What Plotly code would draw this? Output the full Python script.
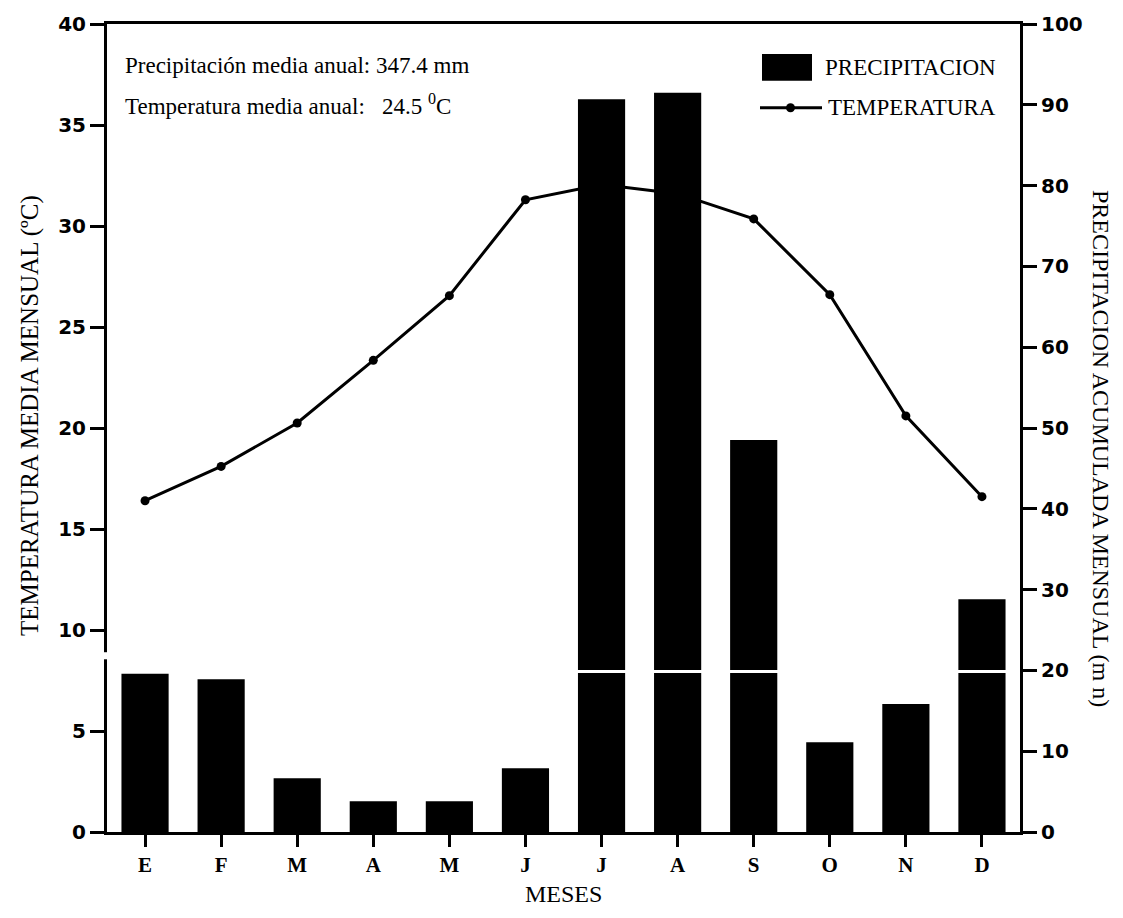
import plotly.graph_objects as go

meses = ["E", "F", "M", "A", "M", "J", "J", "A", "S", "O", "N", "D"]
precipitacion = [19.6, 18.9, 6.65, 3.8, 3.8, 7.9, 90.7, 91.5, 48.5, 11.1, 15.85, 28.8]
temperatura = [16.4, 18.1, 20.25, 23.35, 26.55, 31.3, 32.05, 31.6, 30.35, 26.6, 20.6, 16.6]
temp_ticks = [0, 5, 10, 15, 20, 25, 30, 35, 40]
prec_ticks = [0, 10, 20, 30, 40, 50, 60, 70, 80, 90, 100]

W, H = 1123, 918
L, R, T, B = 107, 1020, 22, 832


def px(x):
    return (x - L) / (R - L)


def py(y):
    return (B - y) / (B - T)


serif = "Liberation Serif, Times New Roman, serif"
sans = "DejaVu Sans, Arial, sans-serif"

xs = list(range(len(meses)))

fig = go.Figure()
fig.add_trace(go.Scatter(
    x=xs, y=temperatura, mode="lines+markers", name="TEMPERATURA",
    line=dict(color="black", width=3),
    marker=dict(color="black", size=9), yaxis="y", showlegend=False))
fig.add_trace(go.Bar(
    x=xs, y=precipitacion, name="PRECIPITACION", marker=dict(color="black", line=dict(width=0)),
    width=0.62, yaxis="y2", showlegend=False))

fig.update_layout(
    width=W, height=H,
    margin=dict(l=L, r=W - R, t=T, b=H - B, pad=0),
    paper_bgcolor="white", plot_bgcolor="white",
    font=dict(family=serif, color="black"),
    xaxis=dict(
        range=[-0.5, len(meses) - 0.5], tickmode="array", tickvals=xs, ticktext=meses,
        showline=True, linecolor="black", linewidth=3, mirror=True,
        ticks="outside", ticklen=12, tickwidth=2.5, tickcolor="black",
        showgrid=False, zeroline=False,
        tickfont=dict(family=serif, size=21, color="black", weight="bold"),
    ),
    yaxis=dict(
        range=[0, 40], tickmode="array", tickvals=temp_ticks,
        showline=True, linecolor="black", linewidth=3,
        ticks="outside", ticklen=14, tickwidth=2.5, tickcolor="black",
        showgrid=False, zeroline=False,
        tickfont=dict(family=sans, size=20, color="black", weight="bold"),
    ),
    yaxis2=dict(
        range=[0, 100], tickmode="array", tickvals=prec_ticks, overlaying="y", side="right",
        showline=True, linecolor="black", linewidth=3,
        ticks="outside", ticklen=14, tickwidth=2.5, tickcolor="black",
        showgrid=False, zeroline=False,
        tickfont=dict(family=sans, size=20, color="black", weight="bold"),
    ),
)

annotations = [
    dict(text="TEMPERATURA MEDIA MENSUAL (ºC)", x=px(30), y=py(415), xref="paper", yref="paper",
         textangle=-90, showarrow=False, font=dict(family=serif, size=25), xanchor="center", yanchor="middle"),
    dict(text="PRECIPITACION ACUMULADA MENSUAL (m n)", x=px(1101), y=py(447), xref="paper", yref="paper",
         textangle=90, showarrow=False, font=dict(family=serif, size=24), xanchor="center", yanchor="middle"),
    dict(text="MESES", x=0.5, y=py(894), xref="paper", yref="paper", showarrow=False,
         font=dict(family=serif, size=24), xanchor="center", yanchor="middle"),
    dict(text="Precipitación media anual: 347.4 mm", x=px(123), y=py(64), xref="paper", yref="paper",
         showarrow=False, font=dict(family=serif, size=23), xanchor="left", yanchor="middle"),
    dict(text="Temperatura media anual:\u00a0\u00a0\u00a024.5 <sup>0</sup>C", x=px(123), y=py(103),
         xref="paper", yref="paper", showarrow=False, font=dict(family=serif, size=23),
         xanchor="left", yanchor="middle"),
    dict(text="PRECIPITACION", x=px(823), y=py(66), xref="paper", yref="paper", showarrow=False,
         font=dict(family=serif, size=23), xanchor="left", yanchor="middle"),
    dict(text="TEMPERATURA", x=px(826), y=py(106), xref="paper", yref="paper", showarrow=False,
         font=dict(family=serif, size=23), xanchor="left", yanchor="middle"),
]
fig.update_layout(annotations=annotations)

shapes = [
    # legend swatches
    dict(type="rect", xref="paper", yref="paper", x0=px(762), x1=px(812), y0=py(79), y1=py(52),
         fillcolor="black", line=dict(width=0)),
    dict(type="line", xref="paper", yref="paper", x0=px(760), x1=px(822), y0=py(106), y1=py(106),
         line=dict(color="black", width=3)),
    dict(type="circle", xref="paper", yref="paper", x0=px(786), x1=px(795), y0=py(110.5), y1=py(101.5),
         fillcolor="black", line=dict(width=0)),
    # scan artefacts: white break line across tall bars and small gap in left axis
    dict(type="line", xref="x", yref="y2", x0=5.6, x1=11.4, y0=19.85, y1=19.85,
         line=dict(color="white", width=3), layer="above"),
    dict(type="rect", xref="paper", yref="y", x0=-0.004, x1=0.004, y0=8.55, y1=8.9,
         fillcolor="white", line=dict(width=0), layer="above"),
]
fig.update_layout(shapes=shapes)

fig.write_html("out.html")
